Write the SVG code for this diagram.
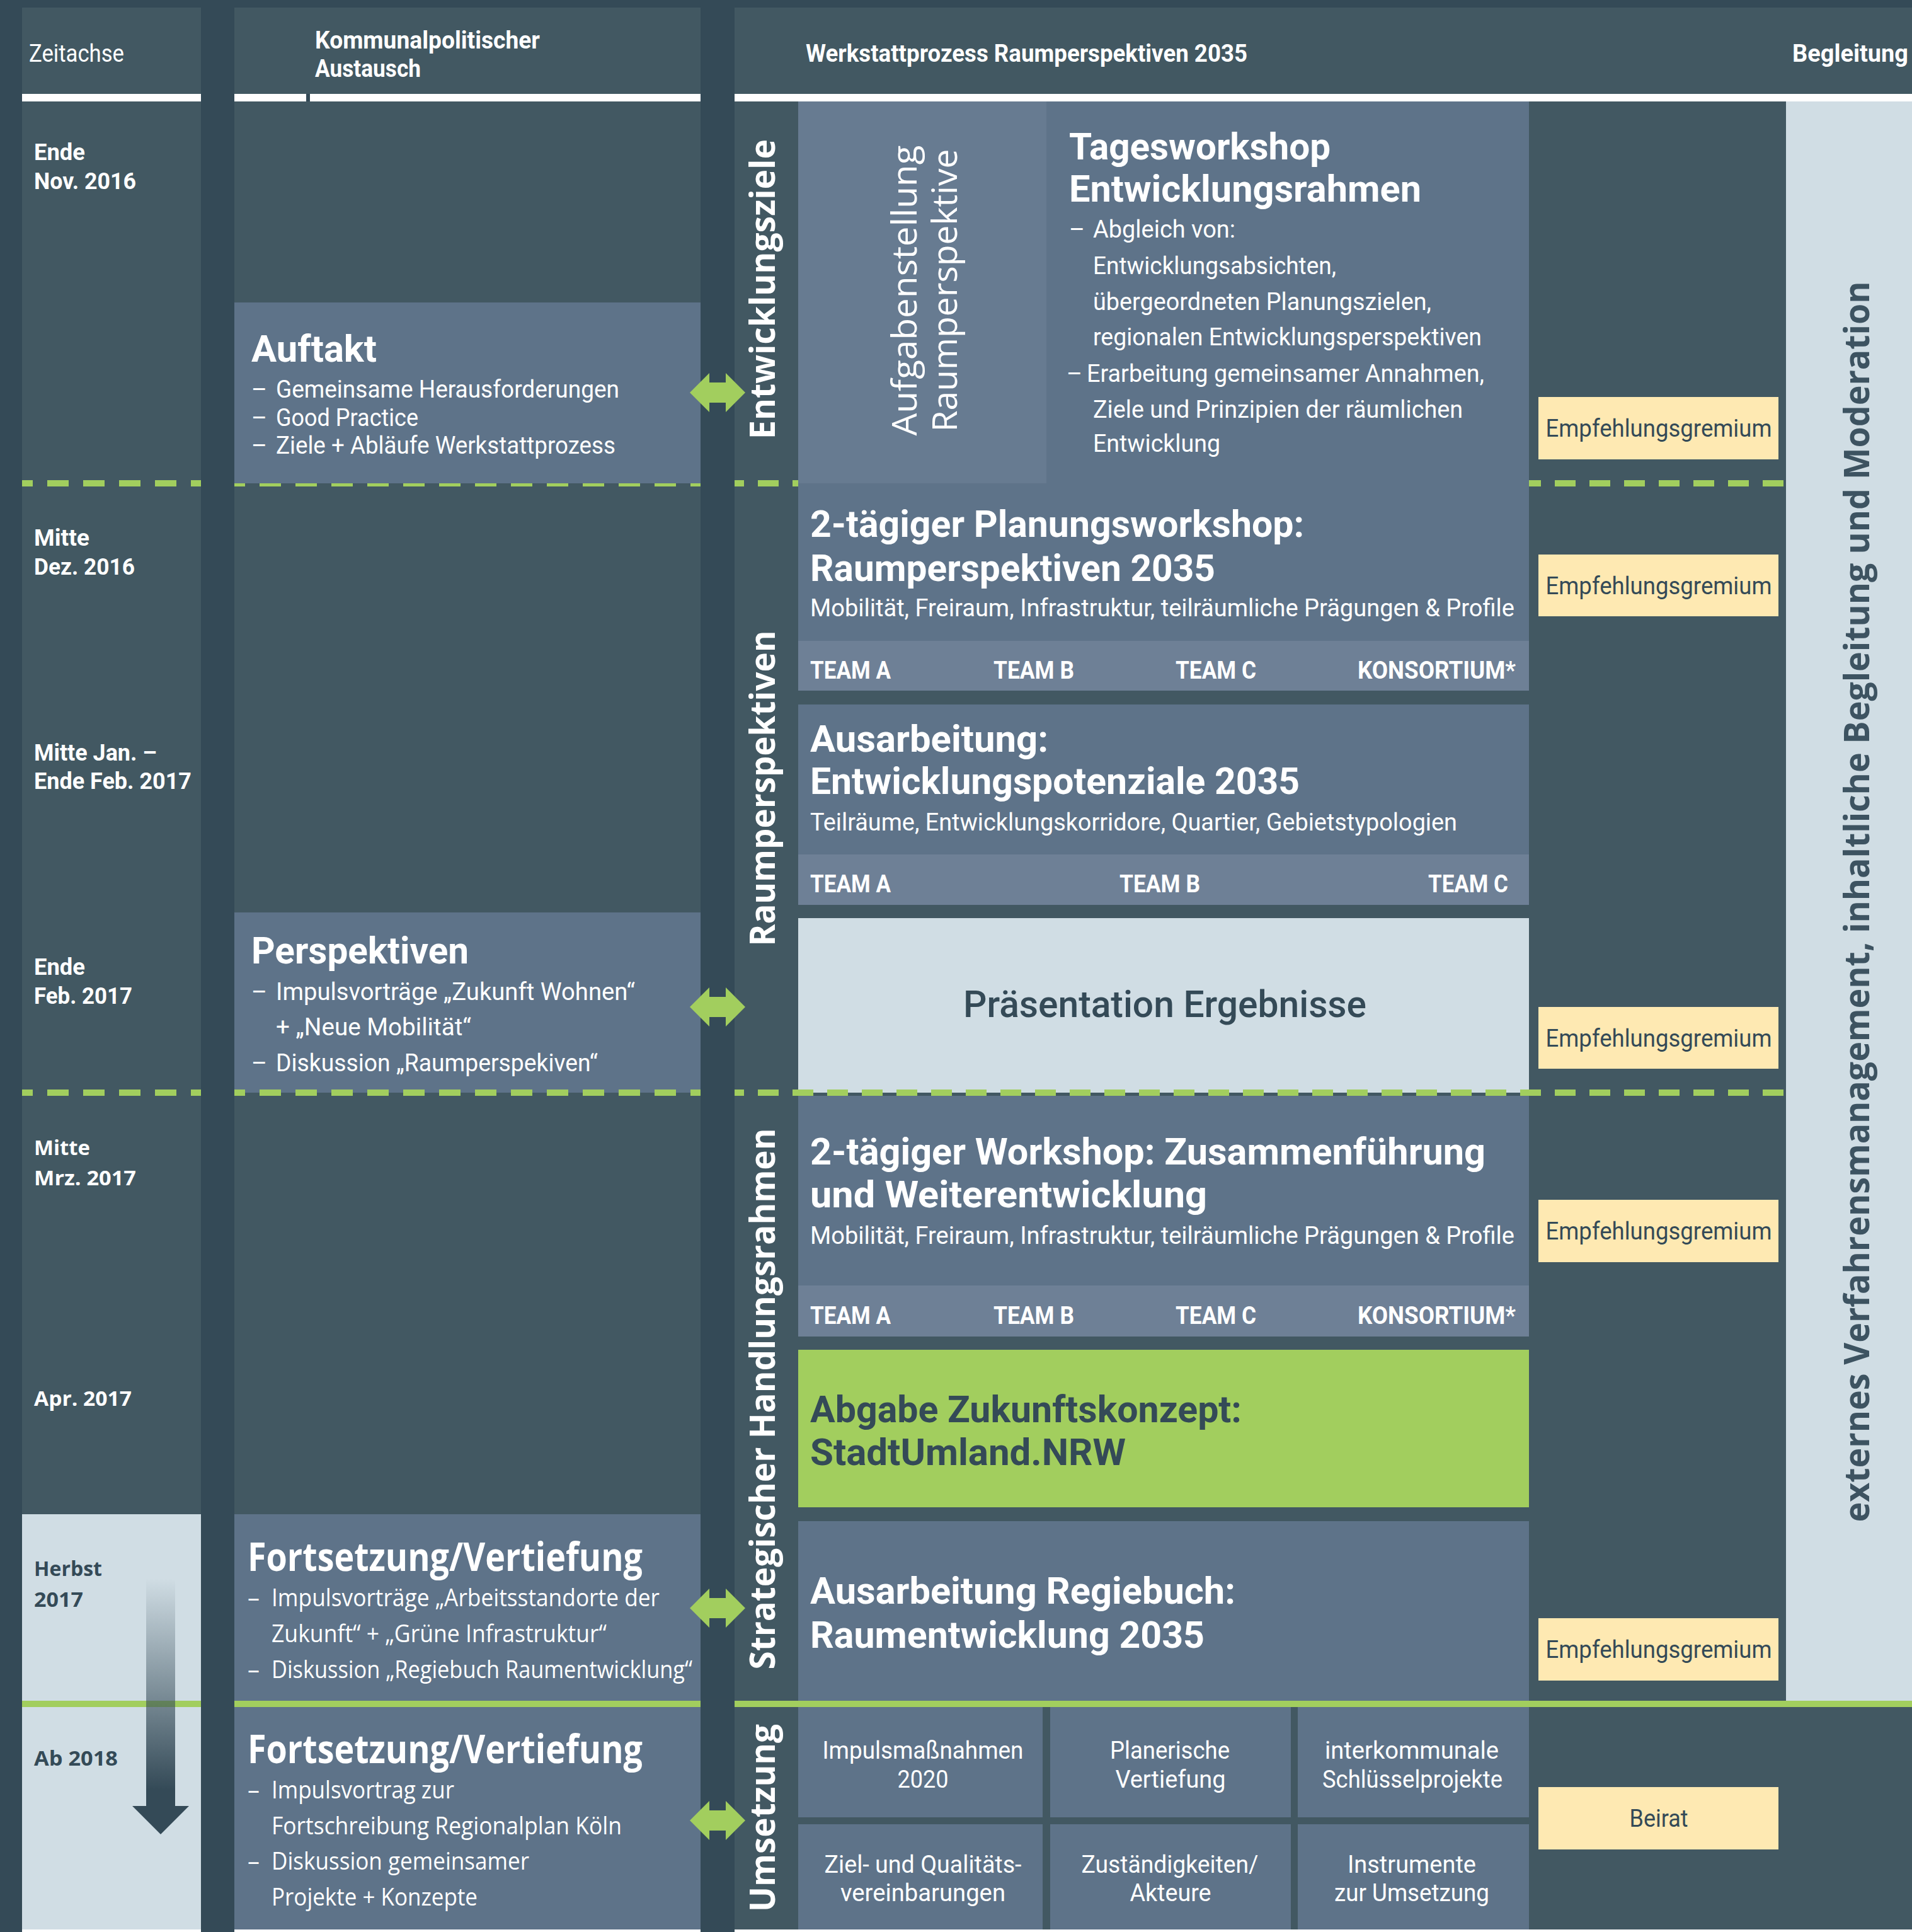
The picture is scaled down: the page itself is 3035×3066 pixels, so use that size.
<svg xmlns="http://www.w3.org/2000/svg" width="3035" height="3066" viewBox="0 0 3035 3066">
<style>
.bg{fill:#344a57}.col{fill:#425862}.box{fill:#5e7389}.boxl{fill:#677b91}.team{fill:#6e8096}.light{fill:#d0dde4}.grn{fill:#a2ce5e}.yel{fill:#fee9b2}.wht{fill:#ffffff}
.c{font-family:Roboto,"Liberation Sans",sans-serif}
.o{font-family:"Open Sans","Noto Sans","Liberation Sans",sans-serif}
.w{fill:#ffffff}.k{fill:#344a57}
.p{font-size:38px}.h{font-size:60px;font-weight:700}.ho{font-size:62px;font-weight:700}
.tl{font-size:37px;font-weight:700}.tlo{font-size:33px;font-weight:700}
.bd{font-weight:700}
.em{font-family:Roboto,"Liberation Sans",sans-serif;font-size:38px;fill:#344a57;text-anchor:middle}
.v{font-family:"Open Sans","DejaVu Sans",sans-serif;font-weight:700;font-size:56px;text-anchor:middle}
.vr{font-family:"Open Sans","DejaVu Sans",sans-serif;font-weight:400;font-size:54px;text-anchor:middle}
.mid{text-anchor:middle}
.dash{stroke:#a2ce5e;stroke-width:10;fill:none}
.gl{fill:#a2ce5e}
</style>
<defs>
<path id="dbl" d="M-44,0 L-13,-31 L-13,-16 L13,-16 L13,-31 L44,0 L13,31 L13,16 L-13,16 L-13,31 Z"/>
<linearGradient id="tg" gradientUnits="userSpaceOnUse" x1="0" y1="2505" x2="0" y2="2840">
<stop offset="0" stop-color="#344a57" stop-opacity="0"/>
<stop offset="1" stop-color="#344a57" stop-opacity="1"/>
</linearGradient>
</defs>

<rect class="bg" x="0" y="0" width="3035" height="3066"/>

<g id="headers">
<rect class="col" x="35" y="12" width="284" height="137"/>
<rect class="col" x="372" y="12" width="740" height="137"/>
<rect class="col" x="1166" y="12" width="1869" height="137"/>
<rect class="wht" x="35" y="149" width="284" height="12"/>
<rect class="wht" x="372" y="149" width="114" height="12"/>
<rect class="wht" x="492" y="149" width="620" height="12"/>
<rect class="wht" x="1166" y="149" width="1869" height="12"/>
<text class="c w p" x="46" y="98" textLength="151" lengthAdjust="spacingAndGlyphs">Zeitachse</text>
<text class="c w p bd" x="500" y="77" textLength="357" lengthAdjust="spacingAndGlyphs">Kommunalpolitischer</text>
<text class="c w p bd" x="500" y="122" textLength="168" lengthAdjust="spacingAndGlyphs">Austausch</text>
<text class="c w p bd" x="1279" y="98" textLength="701" lengthAdjust="spacingAndGlyphs">Werkstattprozess Raumperspektiven 2035</text>
<text class="c w p bd" x="2845" y="98" textLength="184" lengthAdjust="spacingAndGlyphs">Begleitung</text>
</g>

<g id="columns">
<rect class="col" x="35" y="161" width="284" height="2242"/>
<rect class="light" x="35" y="2403" width="284" height="659"/>
<rect class="col" x="372" y="161" width="740" height="2901"/>
<rect class="col" x="1166" y="161" width="1669" height="2901"/>
<rect class="light" x="2835" y="161" width="200" height="2538"/>
<rect class="col" x="2835" y="2709" width="200" height="353"/>
<rect class="wht" x="35" y="3062" width="284" height="4"/>
<rect class="wht" x="372" y="3062" width="740" height="4"/>
<rect class="wht" x="1166" y="3062" width="1869" height="4"/>
</g>

<g id="timeline">
<text class="c w tl" x="54" y="254" textLength="81" lengthAdjust="spacingAndGlyphs">Ende</text>
<text class="c w tl" x="54" y="300" textLength="162" lengthAdjust="spacingAndGlyphs">Nov. 2016</text>
<text class="c w tl" x="54" y="866" textLength="88" lengthAdjust="spacingAndGlyphs">Mitte</text>
<text class="c w tl" x="54" y="912" textLength="160" lengthAdjust="spacingAndGlyphs">Dez. 2016</text>
<text class="c w tl" x="54" y="1207" textLength="195" lengthAdjust="spacingAndGlyphs">Mitte Jan. –</text>
<text class="c w tl" x="54" y="1252" textLength="250" lengthAdjust="spacingAndGlyphs">Ende Feb. 2017</text>
<text class="c w tl" x="54" y="1547" textLength="81" lengthAdjust="spacingAndGlyphs">Ende</text>
<text class="c w tl" x="54" y="1593" textLength="156" lengthAdjust="spacingAndGlyphs">Feb. 2017</text>
<text class="o w tlo" x="54" y="1833" textLength="89" lengthAdjust="spacingAndGlyphs">Mitte</text>
<text class="o w tlo" x="54" y="1881" textLength="162" lengthAdjust="spacingAndGlyphs">Mrz. 2017</text>
<text class="o w tlo" x="54" y="2231" textLength="155" lengthAdjust="spacingAndGlyphs">Apr. 2017</text>
<text class="o k tlo" x="54" y="2501" textLength="108" lengthAdjust="spacingAndGlyphs">Herbst</text>
<text class="o k tlo" x="54" y="2550" textLength="78" lengthAdjust="spacingAndGlyphs">2017</text>
<text class="o k tlo" x="54" y="2802" textLength="133" lengthAdjust="spacingAndGlyphs">Ab 2018</text>
</g>

<g id="separators">
<line class="dash" x1="35" y1="767" x2="319" y2="767" stroke-dasharray="34 23" stroke-dashoffset="17"/>
<line class="dash" x1="372" y1="767" x2="1112" y2="767" stroke-dasharray="34 23" stroke-dashoffset="17"/>
<line class="dash" x1="1166" y1="767" x2="2835" y2="767" stroke-dasharray="33 22" stroke-dashoffset="18"/>
</g>

<g id="auftakt">
<rect class="box" x="372" y="480" width="740" height="287"/>
<text class="c w h" x="399" y="574" textLength="199" lengthAdjust="spacingAndGlyphs">Auftakt</text>
<text class="c w p" x="399" y="631">–</text>
<text class="c w p" x="438" y="631" textLength="545" lengthAdjust="spacingAndGlyphs">Gemeinsame Herausforderungen</text>
<text class="c w p" x="399" y="676">–</text>
<text class="c w p" x="438" y="676" textLength="226" lengthAdjust="spacingAndGlyphs">Good Practice</text>
<text class="c w p" x="399" y="720">–</text>
<text class="c w p" x="438" y="720" textLength="539" lengthAdjust="spacingAndGlyphs">Ziele + Abläufe Werkstattprozess</text>
</g>

<g id="perspektiven">
<rect class="box" x="372" y="1448" width="740" height="286"/>
<text class="c w h" x="399" y="1529" textLength="345" lengthAdjust="spacingAndGlyphs">Perspektiven</text>
<text class="c w p" x="399" y="1587">–</text>
<text class="c w p" x="438" y="1587" textLength="570" lengthAdjust="spacingAndGlyphs">Impulsvorträge „Zukunft Wohnen“</text>
<text class="c w p" x="438" y="1643" textLength="310" lengthAdjust="spacingAndGlyphs">+ „Neue Mobilität“</text>
<text class="c w p" x="399" y="1700">–</text>
<text class="c w p" x="438" y="1700" textLength="511" lengthAdjust="spacingAndGlyphs">Diskussion „Raumperspekiven“</text>
</g>

<g id="fortsetzung1">
<rect class="box" x="372" y="2403" width="740" height="296"/>
<text class="o w ho" x="393" y="2493" textLength="627" lengthAdjust="spacingAndGlyphs">Fortsetzung/Vertiefung</text>
<text class="o w p" x="393" y="2549">–</text>
<text class="o w p" x="431" y="2549" textLength="616" lengthAdjust="spacingAndGlyphs">Impulsvorträge „Arbeitsstandorte der</text>
<text class="o w p" x="431" y="2606" textLength="532" lengthAdjust="spacingAndGlyphs">Zukunft“ + „Grüne Infrastruktur“</text>
<text class="o w p" x="393" y="2663">–</text>
<text class="o w p" x="431" y="2663" textLength="668" lengthAdjust="spacingAndGlyphs">Diskussion „Regiebuch Raumentwicklung“</text>
</g>

<g id="fortsetzung2">
<rect class="box" x="372" y="2709" width="740" height="353"/>
<text class="o w ho" x="393" y="2798" textLength="627" lengthAdjust="spacingAndGlyphs">Fortsetzung/Vertiefung</text>
<text class="o w p" x="393" y="2854">–</text>
<text class="o w p" x="431" y="2854" textLength="290" lengthAdjust="spacingAndGlyphs">Impulsvortrag zur</text>
<text class="o w p" x="431" y="2911" textLength="556" lengthAdjust="spacingAndGlyphs">Fortschreibung Regionalplan Köln</text>
<text class="o w p" x="393" y="2967">–</text>
<text class="o w p" x="431" y="2967" textLength="409" lengthAdjust="spacingAndGlyphs">Diskussion gemeinsamer</text>
<text class="o w p" x="431" y="3024" textLength="327" lengthAdjust="spacingAndGlyphs">Projekte + Konzepte</text>
</g>

<g id="phase-labels">
<text class="v w" transform="translate(1230,459) rotate(-90)" textLength="476" lengthAdjust="spacingAndGlyphs">Entwicklungsziele</text>
<text class="v w" transform="translate(1230,1251) rotate(-90)" textLength="501" lengthAdjust="spacingAndGlyphs">Raumperspektiven</text>
<text class="v w" transform="translate(1230,2220) rotate(-90)" textLength="859" lengthAdjust="spacingAndGlyphs">Strategischer Handlungsrahmen</text>
<text class="v w" transform="translate(1230,2885) rotate(-90)" textLength="298" lengthAdjust="spacingAndGlyphs">Umsetzung</text>
</g>

<g id="aufgabenstellung">
<rect class="boxl" x="1267" y="161" width="394" height="606"/>
<text class="vr w" transform="translate(1455,461) rotate(-90)" textLength="461" lengthAdjust="spacingAndGlyphs">Aufgabenstellung</text>
<text class="vr w" transform="translate(1519,461) rotate(-90)" textLength="449" lengthAdjust="spacingAndGlyphs">Raumperspektive</text>
</g>

<g id="tagesworkshop">
<rect class="box" x="1661" y="161" width="766" height="606"/>
<text class="c w h" x="1697" y="253" textLength="415" lengthAdjust="spacingAndGlyphs">Tagesworkshop</text>
<text class="c w h" x="1697" y="320" textLength="559" lengthAdjust="spacingAndGlyphs">Entwicklungsrahmen</text>
<text class="c w p" x="1697" y="377">–</text>
<text class="c w p" x="1735" y="377" textLength="226" lengthAdjust="spacingAndGlyphs">Abgleich von:</text>
<text class="c w p" x="1735" y="435" textLength="386" lengthAdjust="spacingAndGlyphs">Entwicklungsabsichten,</text>
<text class="c w p" x="1735" y="492" textLength="537" lengthAdjust="spacingAndGlyphs">übergeordneten Planungszielen,</text>
<text class="c w p" x="1735" y="548" textLength="617" lengthAdjust="spacingAndGlyphs">regionalen Entwicklungsperspektiven</text>
<text class="c w p" x="1693" y="606">–</text>
<text class="c w p" x="1725" y="606" textLength="631" lengthAdjust="spacingAndGlyphs">Erarbeitung gemeinsamer Annahmen,</text>
<text class="c w p" x="1735" y="663" textLength="587" lengthAdjust="spacingAndGlyphs">Ziele und Prinzipien der räumlichen</text>
<text class="c w p" x="1735" y="717" textLength="202" lengthAdjust="spacingAndGlyphs">Entwicklung</text>
</g>

<g id="planungsworkshop">
<rect class="box" x="1267" y="767" width="1160" height="250"/>
<rect class="team" x="1267" y="1017" width="1160" height="79"/>
<text class="c w h" x="1286" y="852" textLength="784" lengthAdjust="spacingAndGlyphs">2-tägiger Planungsworkshop:</text>
<text class="c w h" x="1286" y="922" textLength="643" lengthAdjust="spacingAndGlyphs">Raumperspektiven 2035</text>
<text class="c w p" x="1286" y="978" textLength="1118" lengthAdjust="spacingAndGlyphs">Mobilität, Freiraum, Infrastruktur, teilräumliche Prägungen &amp; Profile</text>
<text class="c w p bd" x="1286" y="1077" textLength="128" lengthAdjust="spacingAndGlyphs">TEAM A</text>
<text class="c w p bd" x="1577" y="1077" textLength="128" lengthAdjust="spacingAndGlyphs">TEAM B</text>
<text class="c w p bd" x="1866" y="1077" textLength="128" lengthAdjust="spacingAndGlyphs">TEAM C</text>
<text class="c w p bd" x="2155" y="1077" textLength="251" lengthAdjust="spacingAndGlyphs">KONSORTIUM*</text>
</g>

<g id="ausarbeitung">
<rect class="box" x="1267" y="1118" width="1160" height="238"/>
<rect class="team" x="1267" y="1356" width="1160" height="80"/>
<text class="c w h" x="1286" y="1193" textLength="378" lengthAdjust="spacingAndGlyphs">Ausarbeitung:</text>
<text class="c w h" x="1286" y="1260" textLength="777" lengthAdjust="spacingAndGlyphs">Entwicklungspotenziale 2035</text>
<text class="c w p" x="1286" y="1318" textLength="1027" lengthAdjust="spacingAndGlyphs">Teilräume, Entwicklungskorridore, Quartier, Gebietstypologien</text>
<text class="c w p bd" x="1286" y="1416" textLength="128" lengthAdjust="spacingAndGlyphs">TEAM A</text>
<text class="c w p bd" x="1777" y="1416" textLength="128" lengthAdjust="spacingAndGlyphs">TEAM B</text>
<text class="c w p bd" x="2267" y="1416" textLength="127" lengthAdjust="spacingAndGlyphs">TEAM C</text>
</g>

<g id="praesentation">
<rect class="light" x="1267" y="1457" width="1160" height="277"/>
<text class="c k mid" x="1849" y="1614" font-size="60" font-weight="500" textLength="640" lengthAdjust="spacingAndGlyphs">Präsentation Ergebnisse</text>
</g>

<g id="separators2">
<line class="dash" x1="35" y1="1734" x2="319" y2="1734" stroke-dasharray="34 23" stroke-dashoffset="17"/>
<line class="dash" x1="372" y1="1734" x2="1112" y2="1734" stroke-dasharray="34 23" stroke-dashoffset="17"/>
<line class="dash" x1="1166" y1="1734" x2="2835" y2="1734" stroke-dasharray="33 22" stroke-dashoffset="18"/>
</g>

<g id="workshop-zusammenfuehrung">
<rect class="box" x="1267" y="1739" width="1160" height="301"/>
<rect class="team" x="1267" y="2040" width="1160" height="81"/>
<text class="c w h" x="1286" y="1848" textLength="1072" lengthAdjust="spacingAndGlyphs">2-tägiger Workshop: Zusammenführung</text>
<text class="c w h" x="1286" y="1916" textLength="630" lengthAdjust="spacingAndGlyphs">und Weiterentwicklung</text>
<text class="c w p" x="1286" y="1974" textLength="1118" lengthAdjust="spacingAndGlyphs">Mobilität, Freiraum, Infrastruktur, teilräumliche Prägungen &amp; Profile</text>
<text class="c w p bd" x="1286" y="2101" textLength="128" lengthAdjust="spacingAndGlyphs">TEAM A</text>
<text class="c w p bd" x="1577" y="2101" textLength="128" lengthAdjust="spacingAndGlyphs">TEAM B</text>
<text class="c w p bd" x="1866" y="2101" textLength="128" lengthAdjust="spacingAndGlyphs">TEAM C</text>
<text class="c w p bd" x="2155" y="2101" textLength="251" lengthAdjust="spacingAndGlyphs">KONSORTIUM*</text>
</g>

<g id="abgabe">
<rect class="grn" x="1267" y="2142" width="1160" height="250"/>
<text class="c k h" x="1286" y="2257" textLength="685" lengthAdjust="spacingAndGlyphs">Abgabe Zukunftskonzept:</text>
<text class="c k h" x="1286" y="2325" textLength="501" lengthAdjust="spacingAndGlyphs">StadtUmland.NRW</text>
</g>

<g id="regiebuch">
<rect class="box" x="1267" y="2414" width="1160" height="285"/>
<text class="c w h" x="1286" y="2545" textLength="675" lengthAdjust="spacingAndGlyphs">Ausarbeitung Regiebuch:</text>
<text class="c w h" x="1286" y="2615" textLength="626" lengthAdjust="spacingAndGlyphs">Raumentwicklung 2035</text>
</g>

<g id="umsetzung-cells">
<rect class="box" x="1267" y="2709" width="388" height="175"/>
<rect class="box" x="1667" y="2709" width="382" height="175"/>
<rect class="box" x="2060" y="2709" width="367" height="175"/>
<rect class="box" x="1267" y="2895" width="388" height="167"/>
<rect class="box" x="1667" y="2895" width="382" height="167"/>
<rect class="box" x="2060" y="2895" width="367" height="167"/>
<text class="c w p mid" x="1465" y="2791" textLength="319" lengthAdjust="spacingAndGlyphs">Impulsmaßnahmen</text>
<text class="c w p mid" x="1465" y="2837" textLength="81" lengthAdjust="spacingAndGlyphs">2020</text>
<text class="c w p mid" x="1857" y="2791" textLength="190" lengthAdjust="spacingAndGlyphs">Planerische</text>
<text class="c w p mid" x="1858" y="2837" textLength="175" lengthAdjust="spacingAndGlyphs">Vertiefung</text>
<text class="c w p mid" x="2241" y="2791" textLength="276" lengthAdjust="spacingAndGlyphs">interkommunale</text>
<text class="c w p mid" x="2242" y="2837" textLength="286" lengthAdjust="spacingAndGlyphs">Schlüsselprojekte</text>
<text class="c w p mid" x="1465" y="2972" textLength="313" lengthAdjust="spacingAndGlyphs">Ziel- und Qualitäts-</text>
<text class="c w p mid" x="1465" y="3017" textLength="262" lengthAdjust="spacingAndGlyphs">vereinbarungen</text>
<text class="c w p mid" x="1857" y="2972" textLength="281" lengthAdjust="spacingAndGlyphs">Zuständigkeiten/</text>
<text class="c w p mid" x="1858" y="3017" textLength="129" lengthAdjust="spacingAndGlyphs">Akteure</text>
<text class="c w p mid" x="2241" y="2972" textLength="204" lengthAdjust="spacingAndGlyphs">Instrumente</text>
<text class="c w p mid" x="2241" y="3017" textLength="246" lengthAdjust="spacingAndGlyphs">zur Umsetzung</text>
</g>

<g id="gremien">
<rect class="yel" x="2442" y="630" width="381" height="99"/>
<text class="em" x="2633" y="693" textLength="359" lengthAdjust="spacingAndGlyphs">Empfehlungsgremium</text>
<rect class="yel" x="2442" y="880" width="381" height="98"/>
<text class="em" x="2633" y="943" textLength="359" lengthAdjust="spacingAndGlyphs">Empfehlungsgremium</text>
<rect class="yel" x="2442" y="1598" width="381" height="98"/>
<text class="em" x="2633" y="1661" textLength="359" lengthAdjust="spacingAndGlyphs">Empfehlungsgremium</text>
<rect class="yel" x="2442" y="1904" width="381" height="99"/>
<text class="em" x="2633" y="1967" textLength="359" lengthAdjust="spacingAndGlyphs">Empfehlungsgremium</text>
<rect class="yel" x="2442" y="2568" width="381" height="99"/>
<text class="em" x="2633" y="2631" textLength="359" lengthAdjust="spacingAndGlyphs">Empfehlungsgremium</text>
<rect class="yel" x="2442" y="2836" width="381" height="99"/>
<text class="em" x="2633" y="2899" textLength="93" lengthAdjust="spacingAndGlyphs">Beirat</text>
</g>

<g id="begleitung-label">
<text class="v" fill="#3d5361" transform="translate(2967,1431) rotate(-90)" textLength="1969" lengthAdjust="spacingAndGlyphs">externes Verfahrensmanagement, inhaltliche Begleitung und Moderation</text>
</g>

<g id="green-line">
<rect class="grn" x="35" y="2699" width="284" height="10"/>
<rect class="grn" x="372" y="2699" width="740" height="10"/>
<rect class="grn" x="1166" y="2699" width="1869" height="10"/>
</g>

<g id="time-arrow">
<rect x="232" y="2505" width="46" height="361" fill="url(#tg)"/>
<polygon points="210,2866 300,2866 255,2911" fill="#344a57"/>
</g>

<g id="connectors">
<use href="#dbl" class="gl" transform="translate(1139,623)"/>
<use href="#dbl" class="gl" transform="translate(1139,1598)"/>
<use href="#dbl" class="gl" transform="translate(1139,2552)"/>
<use href="#dbl" class="gl" transform="translate(1139,2889)"/>
</g>
</svg>
